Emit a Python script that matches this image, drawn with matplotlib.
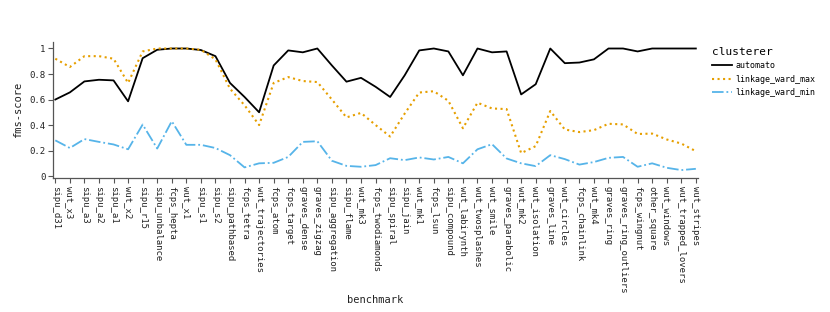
import matplotlib
matplotlib.use("Agg")
import matplotlib.pyplot as plt

plt.rcParams['font.family'] = 'DejaVu Sans Mono'

benchmarks = [
    "sipu_d31", "wut_x3", "sipu_a3", "sipu_a2", "sipu_a1", "wut_x2", "sipu_r15",
    "sipu_unbalance", "fcps_hepta", "wut_x1", "sipu_s1", "sipu_s2",
    "sipu_pathbased", "fcps_tetra", "wut_trajectories", "fcps_atom",
    "fcps_target", "graves_dense", "graves_zigzag", "sipu_aggregation",
    "sipu_flame", "wut_mk3", "fcps_twodiamonds", "sipu_spiral", "sipu_jain",
    "wut_mk1", "fcps_lsun", "sipu_compound", "wut_labirynth",
    "wut_twosplashes", "wut_smile", "graves_parabolic", "wut_mk2",
    "wut_isolation", "graves_line", "wut_circles", "fcps_chainlink", "wut_mk4",
    "graves_ring", "graves_ring_outliers", "fcps_wingnut", "other_square",
    "wut_windows", "wut_trapped_lovers", "wut_stripes",
]

automato = [
    0.60, 0.656, 0.742, 0.755, 0.75, 0.586, 0.924, 0.99, 1.0, 1.0, 0.988,
    0.94, 0.73, 0.62, 0.50, 0.867, 0.985, 0.97, 1.0, 0.867, 0.74, 0.77,
    0.70, 0.62, 0.79, 0.985, 1.0, 0.977, 0.79, 1.0, 0.97, 0.977, 0.64,
    0.72, 1.0, 0.885, 0.89, 0.915, 1.0, 1.0, 0.977, 1.0, 1.0, 1.0, 1.0,
]
ward_max = [
    0.92, 0.855, 0.94, 0.94, 0.92, 0.73, 0.977, 1.0, 1.0, 1.0, 0.99,
    0.915, 0.685, 0.555, 0.40, 0.73, 0.776, 0.745, 0.737, 0.60, 0.46, 0.495,
    0.40, 0.31, 0.49, 0.655, 0.665, 0.59, 0.375, 0.575, 0.53, 0.525, 0.18,
    0.235, 0.51, 0.365, 0.345, 0.36, 0.41, 0.405, 0.33, 0.333, 0.287, 0.255,
    0.195,
]
ward_min = [
    0.28, 0.22, 0.29, 0.268, 0.248, 0.21, 0.404, 0.216, 0.43, 0.245, 0.245,
    0.22, 0.164, 0.068, 0.10, 0.104, 0.15, 0.268, 0.273, 0.12, 0.08, 0.073,
    0.086, 0.14, 0.125, 0.146, 0.13, 0.15, 0.10, 0.21, 0.25, 0.138, 0.10,
    0.078, 0.164, 0.133, 0.09, 0.11, 0.143, 0.15, 0.073, 0.10, 0.065, 0.047,
    0.057,
]

fig = plt.figure(figsize=(8.3, 3.12), dpi=100)
ax = fig.add_axes([0.064, 0.4295, 0.777, 0.4355])

x = range(len(benchmarks))
ax.plot(x, automato, '-', color='black', linewidth=1.3, label='automato')
ax.plot(x, ward_max, ':', color='#E69F00', linewidth=1.5, label='linkage_ward_max')
ax.plot(x, ward_min, '-.', color='#56B4E9', linewidth=1.3, label='linkage_ward_min')

ax.set_xlim(-0.15, len(benchmarks) - 0.85)
ax.set_ylim(-0.015, 1.05)
ax.set_xticks(list(x))
ax.set_xticklabels(benchmarks, rotation=-90, fontsize=6.5, color='#222222')
ax.set_yticks([0, 0.2, 0.4, 0.6, 0.8, 1])
ax.set_yticklabels(['0', '0.2', '0.4', '0.6', '0.8', '1'], fontsize=6.5, color='#222222')

for s in ['top', 'right']:
    ax.spines[s].set_visible(False)
for s in ['left', 'bottom']:
    ax.spines[s].set_color('#555555')
    ax.spines[s].set_linewidth(0.9)
ax.tick_params(length=3.5, width=0.8, color='#555555', pad=2)

# etiquetas de ejes en posiciones fijas
ax.set_xlabel('benchmark', fontsize=7.5, color='#222222')
ax.xaxis.set_label_coords(0.5, -0.897)
ax.xaxis.label.set_verticalalignment('center')
ax.set_ylabel('fms-score', fontsize=7.5, color='#222222')
ax.yaxis.set_label_coords(-35 / 645, 0.5)
ax.yaxis.label.set_verticalalignment('center')

leg = fig.legend(loc='upper left', bbox_to_anchor=(0.849, 0.875), frameon=False,
                 title='clusterer', fontsize=6, title_fontsize=8,
                 handlelength=2.4, labelspacing=0.55, handletextpad=0.4)
leg._legend_box.align = 'left'

fig.savefig('out.png', dpi=100)
